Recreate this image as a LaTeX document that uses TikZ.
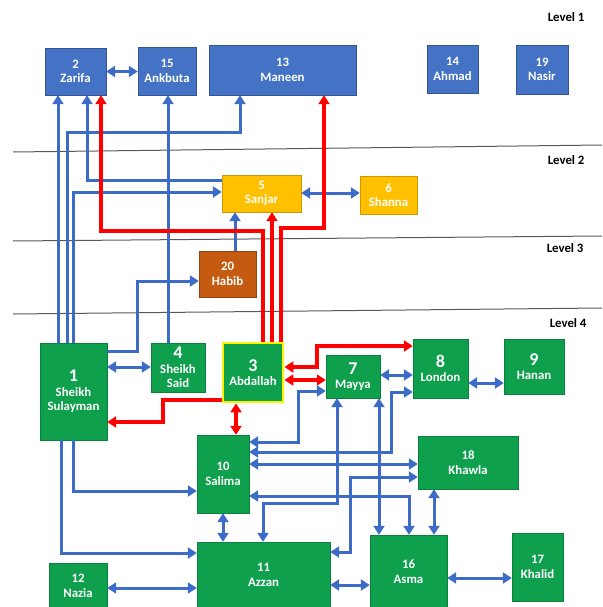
\documentclass[tikz,border=0pt]{standalone}
\usepackage{fontspec}
\setmainfont{Carlito}
\usetikzlibrary{arrows.meta,positioning}
\definecolor{boxblue}{RGB}{68,114,196}
\definecolor{boxgreen}{RGB}{14,160,76}
\definecolor{boxgold}{RGB}{255,192,0}
\definecolor{boxrust}{RGB}{197,90,17}
\definecolor{lineblue}{RGB}{60,108,200}
\tikzset{
  person/.style   = {shape=rectangle, draw, align=center, text=white,
                     inner sep=0.5pt, font=\bfseries\fontsize{12.8}{14.5}\selectfont},
  lvlone/.style   = {person, fill=boxblue, draw=boxblue!75!black},
  lvltwo/.style   = {person, fill=boxgold, draw=boxgold!80!black},
  lvlthree/.style = {person, fill=boxrust, draw=boxrust!75!black},
  lvlfour/.style  = {person, fill=boxgreen, draw=boxgreen!80!black},
  focus/.style    = {lvlfour, draw=yellow, line width=2.8pt},
  levelname/.style = {anchor=east, font=\bfseries\fontsize{12.8}{14}\selectfont},
  sep/.style      = {draw=black!65, line width=1pt},
  blu/.style      = {draw=lineblue, line width=3pt},
  hot/.style      = {draw=red, line width=3.4pt}
}
\newcommand{\bignum}[1]{{\fontsize{18}{18}\selectfont #1}}
\begin{document}
\begin{tikzpicture}[x=1pt,y=-1pt,>={Triangle[length=9pt,width=11pt]}]
\useasboundingbox (0,0) rectangle (602,607);
\draw[sep] (13,152) -- (602,145);
\draw[sep] (13,241) -- (602,236);
\draw[sep] (13,314) -- (602,308);
\node[levelname] (lvl1) at (588,17) {Level 1};
\node[levelname] (lvl2) at (588,160) {Level 2};
\node[levelname] (lvl3) at (587,248) {Level 3};
\node[levelname] (lvl4) at (590,323) {Level 4};
% level 1
\node[lvlone, minimum width=61, minimum height=47] (zarifa) at (75.5,71.5) {2\\Zarifa};
\node[lvlone, minimum width=58, minimum height=48] (ankbuta) at (167,71) {15\\Ankbuta};
\node[lvlone, minimum width=147, minimum height=50] (maneen) at (282.5,70) {13\\Maneen};
\node[lvlone, minimum width=51, minimum height=48] (ahmad) at (452.5,69) {14\\Ahmad};
\node[lvlone, minimum width=52, minimum height=49] (nasir) at (542,69.5) {19\\Nasir};
% level 2 and 3
\node[lvltwo, minimum width=79, minimum height=37] (sanjar) at (261.5,193.5) {5\\Sanjar};
\node[lvltwo, minimum width=57, minimum height=38] (shanna) at (388.5,195) {6\\Shanna};
\node[lvlthree, minimum width=57, minimum height=46] (habib) at (227.5,274) {20\\Habib};
% level 4
\node[lvlfour, minimum width=67, minimum height=97] (sulayman) at (73.5,391.5) {\bignum{1}\\Sheikh\\Sulayman};
\node[lvlfour, minimum width=54, minimum height=49] (said) at (178,367.5) {\bignum{4}\\Sheikh\\Said};
\node[focus, minimum width=60, minimum height=59] (abdallah) at (253,372.5) {\bignum{3}\\Abdallah};
\node[lvlfour, minimum width=54, minimum height=43] (mayya) at (353,376.5) {\bignum{7}\\Mayya};
\node[lvlfour, minimum width=55, minimum height=59] (london) at (440.5,368.5) {\bignum{8}\\London};
\node[lvlfour, minimum width=60, minimum height=55] (hanan) at (534,366.5) {\bignum{9}\\Hanan};
\node[lvlfour, minimum width=52, minimum height=78] (salima) at (223,474) {10\\Salima};
\node[lvlfour, minimum width=100, minimum height=53] (khawla) at (468,462.5) {18\\Khawla};
\node[lvlfour, minimum width=133, minimum height=66] (azzan) at (263.5,575) {11\\Azzan};
\node[lvlfour, minimum width=58, minimum height=46] (nazia) at (78,586) {12\\Nazia};
\node[lvlfour, minimum width=77, minimum height=73] (asma) at (408.5,571.5) {16\\Asma};
\node[lvlfour, minimum width=51, minimum height=68] (khalid) at (537.5,567) {17\\Khalid};
% blue links
\draw[blu,<->] (zarifa.east) -- (ankbuta.west |- zarifa.east);
\draw[blu,->] (sulayman.north -| 58,0) -- (zarifa.south -| 58,0);
\draw[blu,->] (sulayman.north -| 67,0) |- (240,132) -- (maneen.south -| 240,0);
\draw[blu,->] (sulayman.north -| 73,0) |- (sanjar.west |- 0,192);
\draw[blu,->] (sanjar.west |- 0,180) -| (zarifa.south -| 87,0);
\draw[blu,->] (said.north -| 168,0) -- (ankbuta.south -| 168,0);
\draw[blu,->] (sulayman.east |- 0,351) -| (137,281) -- (habib.west |- 0,281);
\draw[blu,->] (habib.north -| 235,0) -- (sanjar.south -| 235,0);
\draw[blu,<->] (sanjar.east |- 0,193) -- (shanna.west |- 0,193);
\draw[blu,<->] (sulayman.east |- 0,367) -- (said.west |- 0,367);
\draw[blu,<->] (mayya.east |- 0,375) -- (london.west |- 0,375);
\draw[blu,<->] (london.east |- 0,383) -- (hanan.west |- 0,383);
\draw[blu,<->] (salima.east |- 0,442) -| (298,391) -- (mayya.west |- 0,391);
\draw[blu,<->] (salima.east |- 0,452) -| (391,392) -- (london.west |- 0,392);
\draw[blu,<->] (salima.east |- 0,464) -- (khawla.west |- 0,464);
\draw[blu,<->] (salima.east |- 0,496) -| (asma.north -| 409,0);
\draw[blu,<->] (mayya.south -| 337,0) |- (263,503) -- (azzan.north -| 263,0);
\draw[blu,<->] (mayya.south -| 379,0) -- (asma.north -| 379,0);
\draw[blu,<->] (azzan.east |- 0,552) -| (350,477) -- (khawla.west |- 0,477);
\draw[blu,<->] (khawla.south -| 434,0) -- (asma.north -| 434,0);
\draw[blu,<->] (asma.east |- 0,578) -- (khalid.west |- 0,578);
\draw[blu,<->] (azzan.east |- 0,585) -- (asma.west |- 0,585);
\draw[blu,<->] (nazia.east |- 0,588) -- (azzan.west |- 0,588);
\draw[blu,<->] (salima.south -| 223,0) -- (azzan.north -| 223,0);
\draw[blu,->] (sulayman.south -| 73,0) |- (salima.west |- 0,491);
\draw[blu,->] (sulayman.south -| 61,0) |- (azzan.west |- 0,553);
% red links
\draw[hot,->] (abdallah.north -| 263,0) |- (101,231) -- (zarifa.south -| 101,0);
\draw[hot,->] (abdallah.north -| 272,0) -- (sanjar.south -| 272,0);
\draw[hot,->] (abdallah.north -| 281,0) |- (324,228) -- (maneen.south -| 324,0);
\draw[hot,->] (abdallah.west |- 0,400) -| (163,422) -- (sulayman.east |- 0,422);
\draw[hot,<->] (abdallah.south -| 236,0) -- (salima.north -| 236,0);
\draw[hot,<->] (abdallah.east |- 0,380) -- (mayya.west |- 0,380);
\draw[hot,<->] (abdallah.east |- 0,367) -| (317,346) -- (london.west |- 0,346);
\end{tikzpicture}
\end{document}
